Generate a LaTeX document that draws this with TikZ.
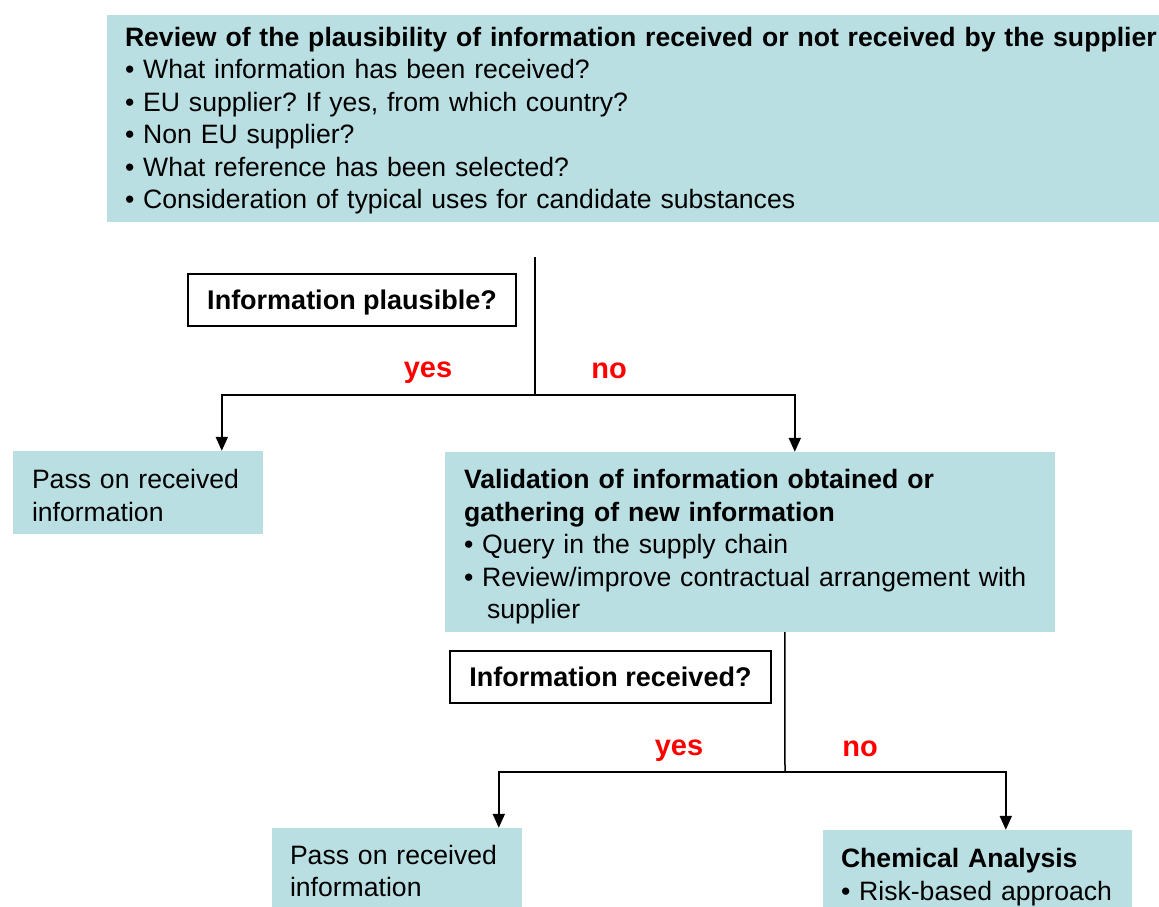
\documentclass[tikz,border=0pt]{standalone}
\usepackage{fontspec}
\setmainfont{Liberation Sans}
\frenchspacing
\usetikzlibrary{arrows.meta}
\definecolor{boxc}{HTML}{B9DFE3}
\definecolor{lblred}{HTML}{FF0000}
\newcommand{\topstrut}[1]{\rule{0pt}{#1}}
\tikzset{
  txt/.style={font=\fontsize{26.6}{32.5}\selectfont},
  infobox/.style={txt, fill=boxc, draw=none, align=left, inner xsep=18pt, inner ysep=0pt, anchor=center},
  decision/.style={font=\fontsize{27}{32.5}\selectfont\bfseries, draw=black, line width=1.6pt, fill=white, inner sep=0pt, text height=25pt, text depth=6pt, anchor=center},
  lbl/.style={font=\fontsize{29}{32}\selectfont\bfseries, text=lblred, inner sep=0pt},
  trunk/.style={line width=1.5pt, draw=black},
  arr/.style={line width=2pt, draw=black, -{Triangle[width=12pt,length=14pt]}}
}
\begin{document}
\begin{tikzpicture}[x=1pt,y=-1pt]
\useasboundingbox (0,0) rectangle (1159,907);
% top box
\node[infobox, text width=1040pt, minimum height=207pt] (top) at (645,118.5)
  {\topstrut{23.5pt}\textbf{Review of the plausibility of information received or not received by the supplier}\\
   • What information has been received?\\
   • EU supplier? If yes, from which country?\\
   • Non EU supplier?\\
   • What reference has been selected?\\
   • Consideration of typical uses for candidate substances};
\coordinate (t1) at (535,257);
\coordinate (j1) at (535,395);
\node[decision, minimum width=328pt, minimum height=52pt] (q1) at (352,300) {Information plausible?};
\node[lbl] (yes1) at (428,373) {yes};
\node[lbl] (no1) at (609,371) {no};
% level 2
\node[infobox, inner xsep=19pt, text width=212pt, minimum height=83pt] (pass1) at (138,492.5)
  {\topstrut{25.5pt}Pass on received\\ information};
\node[infobox, inner xsep=19pt, text width=572pt, minimum height=180pt] (val) at (750,542)
  {\topstrut{29.5pt}\textbf{Validation of information obtained or}\\
   \textbf{gathering of new information}\\
   • Query in the supply chain\\
   • Review/improve contractual arrangement with\\
   \hspace*{23pt}supplier};
\draw[trunk] (t1) -- (j1);
\draw[arr] (j1) -| ([xshift=209pt]pass1.north west);
\draw[arr] (j1) -| ([xshift=350pt]val.north west);
% level 3
\coordinate (j2) at (785,772);
\node[decision, minimum width=321pt, minimum height=52pt] (q2) at (610.5,677) {Information received?};
\node[lbl] (yes2) at (679,751) {yes};
\node[lbl] (no2) at (860,749) {no};
\node[infobox, text width=214pt, minimum height=86pt] (pass2) at (397,871)
  {Pass on received\\ information};
\node[infobox, text width=273pt, minimum height=88pt] (chem) at (977.5,874)
  {\topstrut{25.5pt}\textbf{Chemical Analysis}\\
   • Risk-based approach};
\draw[trunk] ([xshift=340pt]val.south west) -- (j2);
\draw[arr] (j2) -| ([xshift=227pt]pass2.north west);
\draw[arr] (j2) -| ([xshift=183pt]chem.north west);
\end{tikzpicture}
\end{document}
